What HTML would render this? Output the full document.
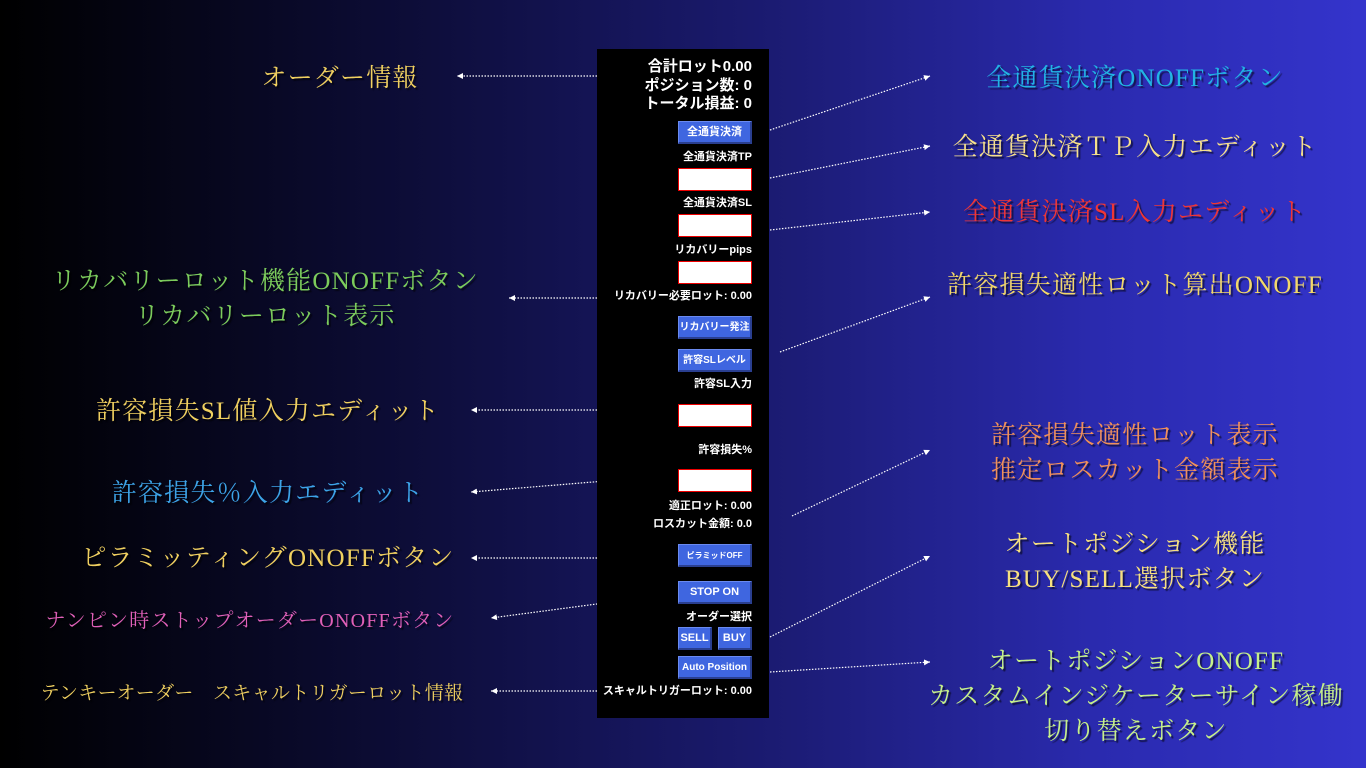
<!DOCTYPE html>
<html><head><meta charset="utf-8"><style>
*{margin:0;padding:0;box-sizing:border-box}
body{width:1366px;height:768px;overflow:hidden;position:relative;background:linear-gradient(90deg,#000 0%,#0d0d38 30%,#1a1a6e 55%,#2a2aae 80%,#3434cc 100%);font-family:"Liberation Sans","Noto Sans CJK JP",sans-serif}
.lb{position:absolute;width:600px;text-align:center;font-family:"Liberation Serif","Noto Serif CJK SC",serif;font-size:25px;letter-spacing:1.2px;line-height:35px;text-shadow:2px 2px 1px rgba(0,0,0,.55);white-space:nowrap}
#panel{position:absolute;left:597px;top:49px;width:172px;height:669px;background:#000}
.t{position:absolute;right:17px;color:#fff;font-weight:bold;white-space:nowrap;text-align:right}
.big{font-size:15px;line-height:18px}
.sm{font-size:11px;line-height:13px}
.btn{position:absolute;background:#3f66e0;color:#fff;font-size:11px;font-weight:bold;text-align:center;line-height:21px;height:23px;border-right:2px solid #2a3f90;border-bottom:2px solid #2a3f90;border-top:1px solid #6a8af0;border-left:1px solid #6a8af0;white-space:nowrap;overflow:hidden}
.ed{position:absolute;left:81px;width:74px;height:23px;background:#fff;border:1px solid #e00}
svg{position:absolute;left:0;top:0}
</style></head><body>
<svg width="1366" height="768">
<defs><marker id="a" markerWidth="6" markerHeight="6" refX="5" refY="3" orient="auto"><path d="M0,0.5 L5,3 L0,5.5z" fill="#fff"/></marker></defs>
<g stroke="#fff" stroke-width="1.2" stroke-dasharray="1.5,1.5" fill="none" marker-end="url(#a)">
<line x1="600" y1="76" x2="457" y2="76"/>
<line x1="600" y1="298" x2="509" y2="298"/>
<line x1="642" y1="410" x2="471" y2="410"/>
<line x1="642" y1="478" x2="471" y2="492"/>
<line x1="642" y1="558" x2="471" y2="558"/>
<line x1="642" y1="598" x2="491" y2="618"/>
<line x1="600" y1="691" x2="491" y2="691"/>
<line x1="770" y1="130" x2="930" y2="76"/>
<line x1="770" y1="178" x2="930" y2="146"/>
<line x1="770" y1="230" x2="930" y2="212"/>
<line x1="780" y1="352" x2="930" y2="297"/>
<line x1="792" y1="516" x2="930" y2="450"/>
<line x1="770" y1="637" x2="930" y2="556"/>
<line x1="770" y1="672" x2="930" y2="662"/>
</g></svg>

<div class="lb" style="left:40px;top:61px;color:#f0d060">オーダー情報</div>
<div class="lb" style="left:-35px;top:264px;color:#7ccc5c">リカバリーロット機能ONOFFボタン<br>リカバリーロット表示</div>
<div class="lb" style="left:-32px;top:394px;color:#f0d060">許容損失SL値入力エディット</div>
<div class="lb" style="left:-32px;top:476px;color:#3da4e8">許容損失％入力エディット</div>
<div class="lb" style="left:-32px;top:541px;color:#f0d060">ピラミッティングONOFFボタン</div>
<div class="lb" style="left:-50px;top:604px;color:#e060b8;font-size:20px">ナンピン時ストップオーダーONOFFボタン</div>
<div class="lb" style="left:-48px;top:676px;color:#f0d060;font-size:19px;letter-spacing:0.3px">テンキーオーダー　スキャルトリガーロット情報</div>

<div class="lb" style="left:835px;top:61px;color:#22b4e4">全通貨決済ONOFFボタン</div>
<div class="lb" style="left:835px;top:130px;color:#f6e08c">全通貨決済ＴＰ入力エディット</div>
<div class="lb" style="left:835px;top:195px;color:#ee3636">全通貨決済SL入力エディット</div>
<div class="lb" style="left:835px;top:268px;color:#f2d86a">許容損失適性ロット算出ONOFF</div>
<div class="lb" style="left:835px;top:418px;color:#f0905a">許容損失適性ロット表示<br>推定ロスカット金額表示</div>
<div class="lb" style="left:835px;top:527px;color:#f6e080">オートポジション機能<br>BUY/SELL選択ボタン</div>
<div class="lb" style="left:836px;top:644px;color:#c6f08a">オートポジションONOFF<br>カスタムインジケーターサイン稼働<br>切り替えボタン</div>

<div id="panel">
<div class="t big" style="top:9px">合計ロット0.00</div>
<div class="t big" style="top:28px">ポジション数: 0</div>
<div class="t big" style="top:46px">トータル損益: 0</div>
<div class="btn" style="left:81px;top:72px;width:74px">全通貨決済</div>
<div class="t sm" style="top:102px">全通貨決済TP</div>
<div class="ed" style="top:119px"></div>
<div class="t sm" style="top:148px">全通貨決済SL</div>
<div class="ed" style="top:165px"></div>
<div class="t sm" style="top:195px">リカバリーpips</div>
<div class="ed" style="top:212px"></div>
<div class="t sm" style="top:241px">リカバリー必要ロット: 0.00</div>
<div class="btn" style="left:81px;top:267px;width:74px;font-size:10px">リカバリー発注</div>
<div class="btn" style="left:81px;top:300px;width:74px;font-size:10px">許容SLレベル</div>
<div class="t sm" style="top:329px">許容SL入力</div>
<div class="ed" style="top:355px"></div>
<div class="t sm" style="top:395px">許容損失%</div>
<div class="ed" style="top:420px"></div>
<div class="t sm" style="top:451px">適正ロット:  0.00</div>
<div class="t sm" style="top:469px">ロスカット金額: 0.0</div>
<div class="btn" style="left:81px;top:495px;width:74px;font-size:8px">ピラミッドOFF</div>
<div class="btn" style="left:81px;top:532px;width:74px">STOP ON</div>
<div class="t sm" style="top:562px">オーダー選択</div>
<div class="btn" style="left:81px;top:578px;width:34px">SELL</div>
<div class="btn" style="left:121px;top:578px;width:34px">BUY</div>
<div class="btn" style="left:81px;top:607px;width:74px;font-size:10px">Auto Position</div>
<div class="t sm" style="top:636px">スキャルトリガーロット: 0.00</div>
</div>
</body></html>
